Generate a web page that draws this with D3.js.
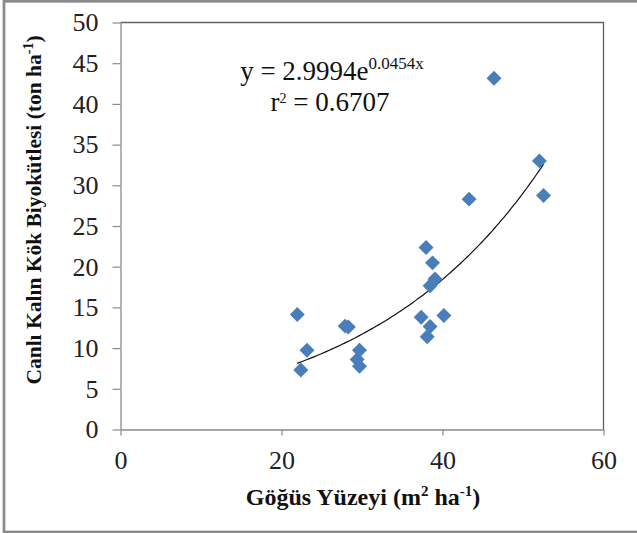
<!DOCTYPE html>
<html>
<head>
<meta charset="utf-8">
<script src="https://cdn.jsdelivr.net/npm/d3@7"></script>
<style>
  html, body { margin: 0; padding: 0; background: #fff; }
  svg { display: block; }
</style>
</head>
<body>
<svg id="chart" width="637" height="533"></svg>
<script>
// ---- data ----
const xValues = [21.96, 22.4, 23.17, 27.9, 28.3, 29.69, 29.4, 29.69, 37.35, 37.96, 38.1, 38.46, 38.76, 38.46, 39.07, 40.17, 43.3, 46.4, 52.04, 52.55];
const yValues = [14.12, 7.31, 9.73, 12.7, 12.6, 9.73, 8.6, 7.78, 13.79, 22.35, 11.4, 12.66, 20.47, 17.67, 18.5, 14.0, 28.3, 43.15, 33.0, 28.74];
const xTicks = [0, 20, 40, 60];
const yTicks = [0, 5, 10, 15, 20, 25, 30, 35, 40, 45, 50];
const fitA = 2.9994;
const fitB = 0.0454;
const eqMain = "y = 2.9994e";
const eqSup = "0.0454x";
const r2Label = "0.6707";
const xTitle = "Göğüs Yüzeyi";
const yTitle = "Canlı Kalın Kök Biyokütlesi";

const svg = d3.select("#chart");
const serif = "'Liberation Serif', 'Times New Roman', serif";

// outer border
svg.append("rect").attr("x", 4).attr("y", 1.3).attr("width", 700).attr("height", 530.7)
  .attr("fill", "none").attr("stroke", "#8a8a8a").attr("stroke-width", 2.7);

const L = 120.5, R = 603.5, T = 22.5, B = 429.5;
const x = d3.scaleLinear().domain([0, 60]).range([L, R]);
const y = d3.scaleLinear().domain([0, 50]).range([B, T]);

// plot frame (top & right)
svg.append("path")
  .attr("d", `M${L},${T}H${R}V${B}`)
  .attr("fill", "none").attr("stroke", "#606060").attr("stroke-width", 1.3);

// axes
const xAxis = svg.append("g").attr("transform", `translate(0,${B})`)
  .call(d3.axisBottom(x).tickValues(xTicks).tickSize(6).tickPadding(15).tickSizeOuter(0));
const yAxis = svg.append("g").attr("transform", `translate(${L},0)`)
  .call(d3.axisLeft(y).tickValues(yTicks).tickSize(8).tickPadding(14).tickSizeOuter(0));
[xAxis, yAxis].forEach(g => {
  g.select(".domain").attr("stroke", "#8a8a8a").attr("stroke-width", 1.3);
  g.selectAll(".tick line").attr("stroke", "#8a8a8a").attr("stroke-width", 1.2);
  g.selectAll(".tick text").attr("font-family", serif).attr("font-size", 26).attr("fill", "#222");
});

// trendline
const [xmin, xmax] = d3.extent(xValues);
const fitPts = d3.range(0, 101).map(i => {
  const xv = xmin + (xmax - xmin) * i / 100;
  return [xv, fitA * Math.exp(fitB * xv)];
});
svg.append("path")
  .attr("d", d3.line().x(d => x(d[0])).y(d => y(d[1]))(fitPts))
  .attr("fill", "none").attr("stroke", "#111").attr("stroke-width", 1.2);

// points (diamonds)
const sym = d3.symbol().type(d3.symbolSquare).size(112);
svg.append("g").selectAll("path").data(xValues.map((v, i) => [v, yValues[i]]))
  .join("path")
  .attr("d", sym)
  .attr("transform", d => `translate(${x(d[0])},${y(d[1])}) rotate(45)`)
  .attr("fill", "#4a7ebb");

// equation
const eq = svg.append("text").attr("x", 332).attr("y", 80)
  .attr("text-anchor", "middle").attr("font-family", serif).attr("font-size", 27).attr("fill", "#111");
eq.append("tspan").text(eqMain);
eq.append("tspan").attr("font-size", 17).attr("dy", -11).text(eqSup);

const r2 = svg.append("text").attr("x", 330).attr("y", 111)
  .attr("text-anchor", "middle").attr("font-family", serif).attr("font-size", 27).attr("fill", "#111");
r2.append("tspan").text("r");
r2.append("tspan").attr("font-size", 14).attr("dy", -8).text("2");
r2.append("tspan").attr("dy", 8).text(" = " + r2Label);

// x title
const xt = svg.append("text").attr("x", 363).attr("y", 505)
  .attr("text-anchor", "middle").attr("font-family", serif).attr("font-weight", "bold")
  .attr("font-size", 24).attr("fill", "#111");
xt.append("tspan").text(xTitle + " (m");
xt.append("tspan").attr("font-size", 15).attr("dy", -9).text("2");
xt.append("tspan").attr("dy", 9).text(" ha");
xt.append("tspan").attr("font-size", 15).attr("dy", -9).text("-1");
xt.append("tspan").attr("dy", 9).text(")");

// y title
const yt = svg.append("text").attr("transform", "translate(41,210) rotate(-90)")
  .attr("text-anchor", "middle").attr("font-family", serif).attr("font-weight", "bold")
  .attr("font-size", 21.5).attr("fill", "#111");
yt.append("tspan").text(yTitle + " (ton ha");
yt.append("tspan").attr("font-size", 14).attr("dy", -8).text("-1");
yt.append("tspan").attr("dy", 8).text(")");
</script>
</body>
</html>
